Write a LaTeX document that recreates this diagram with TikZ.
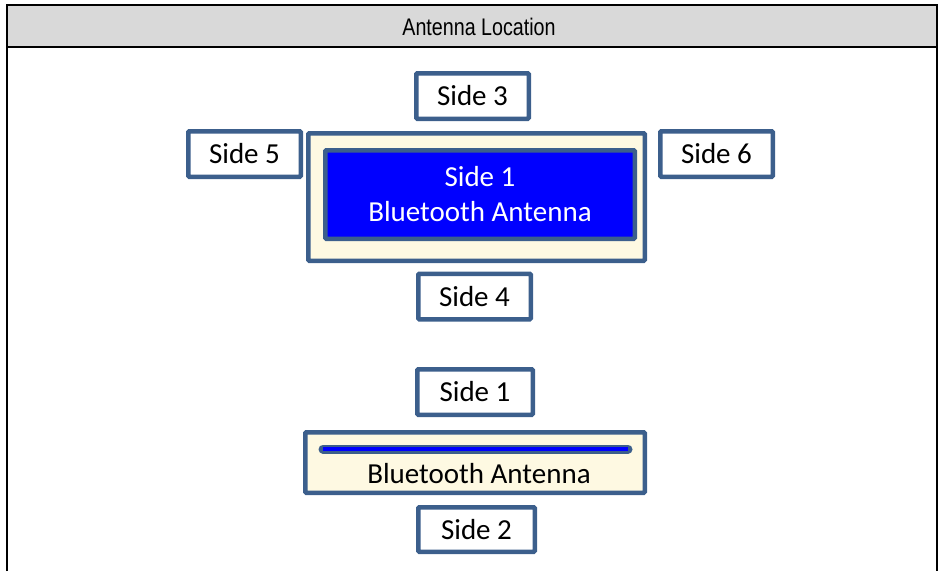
\documentclass[tikz,border=0pt]{standalone}
\usepackage{fontspec}
\setmainfont{Carlito}
\newfontfamily\headfont[FakeStretch=0.82]{Liberation Sans}
\definecolor{edge}{RGB}{60,95,140}
\definecolor{cream}{RGB}{254,249,226}
\definecolor{hdr}{RGB}{217,217,217}
\definecolor{blu}{RGB}{0,0,255}
\tikzset{
  sidebox/.style={draw=edge, line width=4.5pt, fill=white, rounded corners=1pt,
    minimum width=112.5pt, minimum height=45.5pt, inner sep=0pt,
    font=\fontsize{29}{35}\selectfont},
  panel/.style={draw=edge, line width=4.5pt, fill=cream, rounded corners=1pt, inner sep=0pt},
}
\begin{document}
\begin{tikzpicture}[x=1pt,y=-1pt]
\useasboundingbox (0,0) rectangle (940,571);
% frame
\fill[hdr] (7,5) rectangle (937,47);
\draw[line width=2pt] (7,571) -- (7,5) -- (937,5) -- (937,571);
\draw[line width=2pt] (7,47) -- (937,47);
\node[font=\headfont\fontsize{24}{28}\selectfont] (title) at (479,27) {Antenna Location};
% top group
\node[sidebox] (s3) at (472.5,96) {Side 3};
\node[sidebox] (s5) at (244.5,154) {Side 5};
\node[sidebox] (s6) at (716.5,154) {Side 6};
\node[panel, minimum width=336.5pt, minimum height=127.5pt] (outer) at (476.5,197) {};
\node[draw=edge, line width=4.5pt, fill=blu, rounded corners=1pt, minimum width=309.5pt, minimum height=88.5pt,
  text=white, align=center, font=\fontsize{29}{35}\selectfont] (inner) at (480,194.5) {Side 1\\Bluetooth Antenna};
\node[sidebox] (s4) at (474.5,296.5) {Side 4};
% bottom group
\node[sidebox, minimum width=115.5pt] (s1b) at (475,392) {Side 1};
\node[panel, minimum width=339.5pt, minimum height=60.5pt] (bar) at (475,462.5) {};
\coordinate (la) at (323,449);
\coordinate (lb) at (628,449);
\draw[edge, line width=9pt, line cap=round] (la) -- (lb);
\draw[blu, line width=3.5pt] (la) -- (lb);
\node[font=\fontsize{29}{35}\selectfont] (bt) at (479,474) {Bluetooth Antenna};
\node[sidebox, minimum width=116.5pt, minimum height=44.5pt] (s2) at (476.5,529.5) {Side 2};
\end{tikzpicture}
\end{document}
